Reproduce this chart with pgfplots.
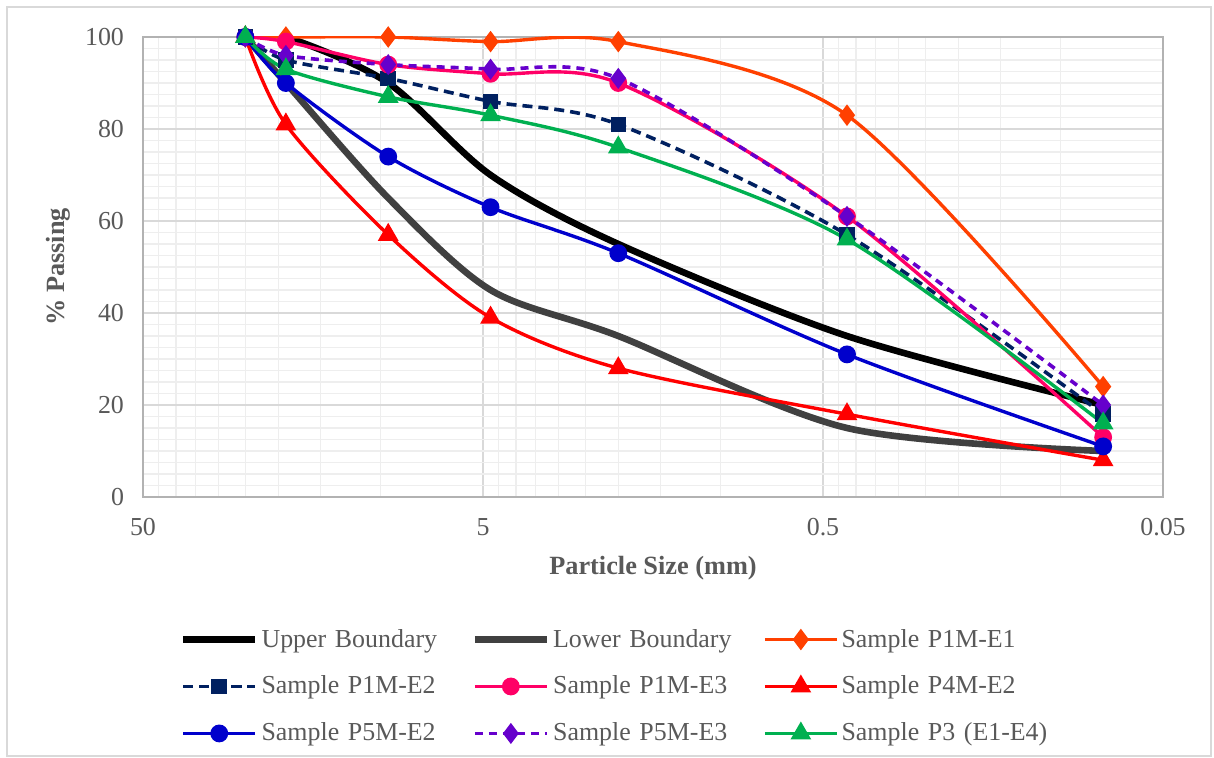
\documentclass[border=0pt]{standalone}
\usepackage{fontspec}
\setmainfont{Liberation Serif}
\usepackage{pgfplots}
\usepackage{pgfplotstable}
\pgfplotsset{compat=1.18}

\definecolor{txtgray}{HTML}{595959}
\definecolor{gridmaj}{HTML}{D9D9D9}
\definecolor{gridmin}{HTML}{EEEEEE}
\definecolor{cUB}{HTML}{000000}
\definecolor{cLB}{HTML}{404040}
\definecolor{cE1}{HTML}{FF4000}
\definecolor{cE2}{HTML}{002060}
\definecolor{cE3}{HTML}{FF0066}
\definecolor{cP4}{HTML}{FF0000}
\definecolor{cP5a}{HTML}{0000CC}
\definecolor{cP5b}{HTML}{6600CC}
\definecolor{cP3}{HTML}{00B050}

% particle size (mm) vs % passing
\pgfplotstableread{
size  UB  LB  E1  E2  E3  P4  PfiveA PfiveB P3
25    100 100 100 100 100 100 100    100    100
19    100 90  100 95  99  81  90     96     93
9.5   90  65  100 91  94  57  74     94     87
4.75  70  45  99  86  92  39  63     93     83
2.0   55  35  99  81  90  28  53     91     76
0.425 35  15  83  57  61  18  31     61     56
0.075 20  10  24  18  13  8   11     20     16
}\gradation

\begin{document}
\begin{tikzpicture}
\useasboundingbox (-71.5bp,-130.5bp) rectangle (535.5bp,248.5bp);
\draw[gridmaj, line width=0.6bp] (-68bp,-129.5bp) rectangle (534bp,245bp);
\begin{axis}[
  scale only axis,
  width=510bp, height=230bp,
  xmode=log, x dir=reverse,
  xmin=0.05, xmax=50, ymin=0, ymax=100,
  xtick={0.05,0.5,5,50},
  xticklabels={0.05,0.5,5,50},
  minor xtick={45,40,35,30,25,20,15,10,4.5,4,3.5,3,2.5,2,1.5,1,0.45,0.4,0.35,0.3,0.25,0.2,0.15,0.1},
  ytick={0,20,...,100},
  minor y tick num=7,
  grid=both,
  major grid style={gridmaj, line width=0.7bp},
  minor grid style={gridmin, line width=0.6bp},
  axis line style={draw=black!30, line width=0.7bp},
  major tick length=0pt, minor tick length=0pt,
  /pgf/number format/assume math mode=true,
  tick label style={font=\fontsize{13}{15}\selectfont, text=txtgray},
  xticklabel style={yshift=-7bp},
  yticklabel style={xshift=-6bp},
  xlabel={\textbf{Particle Size (mm)}},
  ylabel={\textbf{\% Passing}},
  label style={font=\fontsize{13.2}{15}\selectfont, text=txtgray},
  xlabel style={at={(axis description cs:0.5,0)}, anchor=center, yshift=-35.5bp},
  ylabel style={at={(axis description cs:0,0.5)}, anchor=center, yshift=42.5bp},
  legend columns=3,
  legend cell align=left,
  legend style={draw=none, fill=none, at={(axis description cs:0.03,-0.271)}, anchor=north west,
    font=\fontsize{13}{15}\selectfont, text=txtgray,
    /tikz/every even column/.append style={column sep=0pt},
    nodes={text width=103.5bp, inner sep=1.5bp},
    row sep=10bp},
  legend image code/.code={\draw[mark repeat=2,mark phase=2,#1] plot coordinates {(0bp,0bp)(18bp,0bp)(36bp,0bp)};},
  every axis plot/.append style={smooth, tension=0.5},
]
\addplot[cUB, line width=3.3bp, no markers] table[x=size, y=UB] {\gradation};
\addlegendentry{Upper Boundary}
\addplot[cLB, line width=3.3bp, no markers] table[x=size, y=LB] {\gradation};
\addlegendentry{Lower Boundary}
\addplot[cE1, line width=1.7bp, mark=diamond*, mark size=4bp] table[x=size, y=E1] {\gradation};
\addlegendentry{Sample P1M-E1}
\addplot[cE2, line width=1.8bp, dash pattern=on 5bp off 3bp, mark=square*, mark size=3bp, mark options={solid}] table[x=size, y=E2] {\gradation};
\addlegendentry{Sample P1M-E2}
\addplot[cE3, line width=1.7bp, mark=*, mark size=3.6bp] table[x=size, y=E3] {\gradation};
\addlegendentry{Sample P1M-E3}
\addplot[cP4, line width=1.7bp, mark=triangle*, mark size=4.3bp] table[x=size, y=P4] {\gradation};
\addlegendentry{Sample P4M-E2}
\addplot[cP5a, line width=1.7bp, mark=*, mark size=3.6bp] table[x=size, y=PfiveA] {\gradation};
\addlegendentry{Sample P5M-E2}
\addplot[cP5b, line width=1.8bp, dash pattern=on 4bp off 3bp, mark=diamond*, mark size=3.8bp, mark options={solid}] table[x=size, y=PfiveB] {\gradation};
\addlegendentry{Sample P5M-E3}
\addplot[cP3, line width=1.7bp, mark=triangle*, mark size=4.3bp] table[x=size, y=P3] {\gradation};
\addlegendentry{Sample P3 (E1-E4)}
\end{axis}
\end{tikzpicture}
\end{document}
